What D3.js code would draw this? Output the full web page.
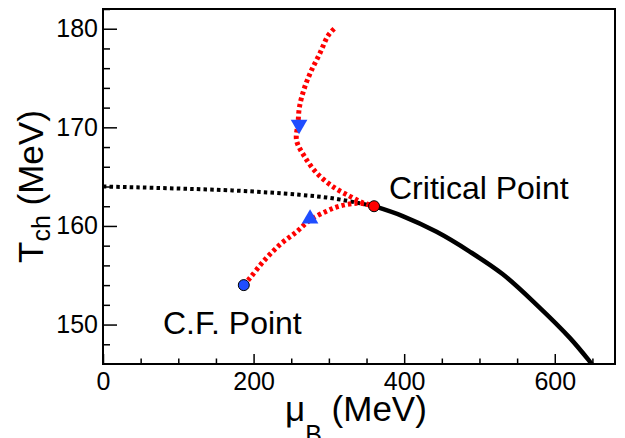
<html>
<head>
<meta charset="UTF-8">
<title>Tch vs muB</title>
<script src="https://cdnjs.cloudflare.com/ajax/libs/d3/7.8.5/d3.min.js"></script>
<style>
	body { margin: 0; background: #fff; }
	text { font-family: "Liberation Sans", Arial, Helvetica, sans-serif; fill: #000; }
	.tick line { stroke: #000; stroke-width: 1.5; }
</style>
</head>
<body>
<div id="chart"></div>
<script>

	// crossover line, mu_B < mu_CP (dotted)
	var crossMu = [0, 172, 261, 305, 341, 360];
	var crossT  = [164.0, 163.6, 163.16, 162.8, 162.3, 162.0];

	// first order line, mu_B > mu_CP (solid)
	var firstMu = [360, 398, 443, 487, 531, 576, 620, 646, 652];
	var firstT  = [162.0, 161.0, 159.4, 157.4, 155.1, 152.0, 148.65, 146.3, 145.7];

	// upper red trajectory (from top to the critical point)
	var upperMu = [307, 299, 288, 277, 268, 261, 259, 257, 268, 284, 305, 328, 345, 360];
	var upperT  = [180.0, 179.3, 177.5, 175.8, 174.1, 172.1, 170.4, 168.7, 167.0, 165.35, 164.0, 163.0, 162.35, 162.0];

	// lower red trajectory (from C.F. point to the critical point)
	var lowerMu = [187, 195, 213, 235, 257, 275, 297, 314, 337, 354, 360];
	var lowerT  = [154.0, 154.7, 156.4, 158.1, 159.4, 160.6, 161.5, 162.0, 162.3, 162.15, 162.0];

	var critPoint = [360, 162.0];
	var cfPoint = [187, 154.0];
	var arrowDown = [260.4, 170.27];
	var arrowUp = [275, 160.73];

	var xMajor = [0, 200, 400, 600];
	var xMinor = [50, 100, 150, 250, 300, 350, 450, 500, 550, 650];
	var yMajor = [150, 160, 170, 180];
	var yMinor = [148, 152, 154, 156, 158, 162, 164, 166, 168, 172, 174, 176, 178, 182];

	var width = 625, height = 438;
	var padL = 103, padR = 615, padT = 9, padB = 364;

	var svg = d3.select("#chart").append("svg")
		.attr("width", width)
		.attr("height", height);

	var x = d3.scaleLinear().domain([0, 680]).range([padL, padR]);
	var y = d3.scaleLinear().domain([146, 182]).range([padB, padT]);

	svg.append("clipPath").attr("id", "plotclip")
		.append("rect")
		.attr("x", padL).attr("y", padT)
		.attr("width", padR - padL).attr("height", padB - padT);

	// axes, ticks pointing inward
	svg.append("g").attr("transform", "translate(0," + padB + ")")
		.call(d3.axisBottom(x).tickValues(xMajor).tickSize(-10).tickPadding(8).tickFormat(d3.format("d")));
	svg.append("g").attr("transform", "translate(0," + padB + ")")
		.call(d3.axisBottom(x).tickValues(xMinor).tickSize(-5.5).tickFormat(""));
	svg.append("g").attr("transform", "translate(" + padL + ",0)")
		.call(d3.axisLeft(y).tickValues(yMajor).tickSize(-14).tickPadding(5).tickFormat(d3.format("d")));
	svg.append("g").attr("transform", "translate(" + padL + ",0)")
		.call(d3.axisLeft(y).tickValues(yMinor).tickSize(-7).tickFormat(""));

	svg.selectAll(".domain").remove();
	svg.selectAll(".tick text")
		.style("font-size", "25px")
		.attr("fill", "#000");

	svg.append("rect")
		.attr("x", padL).attr("y", padT)
		.attr("width", padR - padL).attr("height", padB - padT)
		.attr("fill", "none")
		.attr("stroke", "#000")
		.attr("stroke-width", 2);

	var line = d3.line()
		.x(function(d) { return x(d[0]); })
		.y(function(d) { return y(d[1]); })
		.curve(d3.curveCatmullRom.alpha(0.5));

	var plot = svg.append("g").attr("clip-path", "url(#plotclip)");

	plot.append("path")
		.datum(d3.zip(crossMu, crossT))
		.attr("d", line)
		.attr("fill", "none")
		.attr("stroke", "#000")
		.attr("stroke-width", 4)
		.attr("stroke-dasharray", "3.5,3.2");

	plot.append("path")
		.datum(d3.zip(firstMu, firstT))
		.attr("d", line)
		.attr("fill", "none")
		.attr("stroke", "#000")
		.attr("stroke-width", 4.5);

	[d3.zip(upperMu, upperT), d3.zip(lowerMu, lowerT)].forEach(function(pts) {
		plot.append("path")
			.datum(pts)
			.attr("d", line)
			.attr("fill", "none")
			.attr("stroke", "#ff0000")
			.attr("stroke-width", 5)
			.attr("stroke-dasharray", "3.4,3");
	});

	// direction markers
	var tri = d3.symbol().type(d3.symbolTriangle).size(120);
	plot.append("path")
		.attr("d", tri)
		.attr("transform", "translate(" + x(arrowDown[0]) + "," + y(arrowDown[1]) + ") rotate(180)")
		.attr("fill", "#1f4dff");
	plot.append("path")
		.attr("d", tri)
		.attr("transform", "translate(" + x(arrowUp[0]) + "," + y(arrowUp[1]) + ")")
		.attr("fill", "#1f4dff");

	plot.append("circle")
		.attr("cx", x(cfPoint[0])).attr("cy", y(cfPoint[1])).attr("r", 5.5)
		.attr("fill", "#1f4dff").attr("stroke", "#000").attr("stroke-width", 1);
	plot.append("circle")
		.attr("cx", x(critPoint[0])).attr("cy", y(critPoint[1])).attr("r", 5.5)
		.attr("fill", "#ff0000").attr("stroke", "#000").attr("stroke-width", 1);

	svg.append("text")
		.attr("x", 389).attr("y", 199)
		.style("font-size", "32px")
		.text("Critical Point");
	svg.append("text")
		.attr("x", 163).attr("y", 334)
		.style("font-size", "32px")
		.text("C.F. Point");

	// axis titles
	var xt = svg.append("text").attr("x", 285).attr("y", 421).style("font-size", "35px");
	xt.append("tspan").text("\u03bc");
	xt.append("tspan").attr("dy", 22).style("font-size", "25px").text("B");
	xt.append("tspan").attr("dy", -22).text(" (MeV)");

	var yt = svg.append("text").attr("transform", "translate(43,263) rotate(-90)").style("font-size", "35px");
	yt.append("tspan").text("T");
	yt.append("tspan").attr("dy", 7).style("font-size", "25px").text("ch");
	yt.append("tspan").attr("dy", -7).text(" (MeV)");

</script>
</body>
</html>
